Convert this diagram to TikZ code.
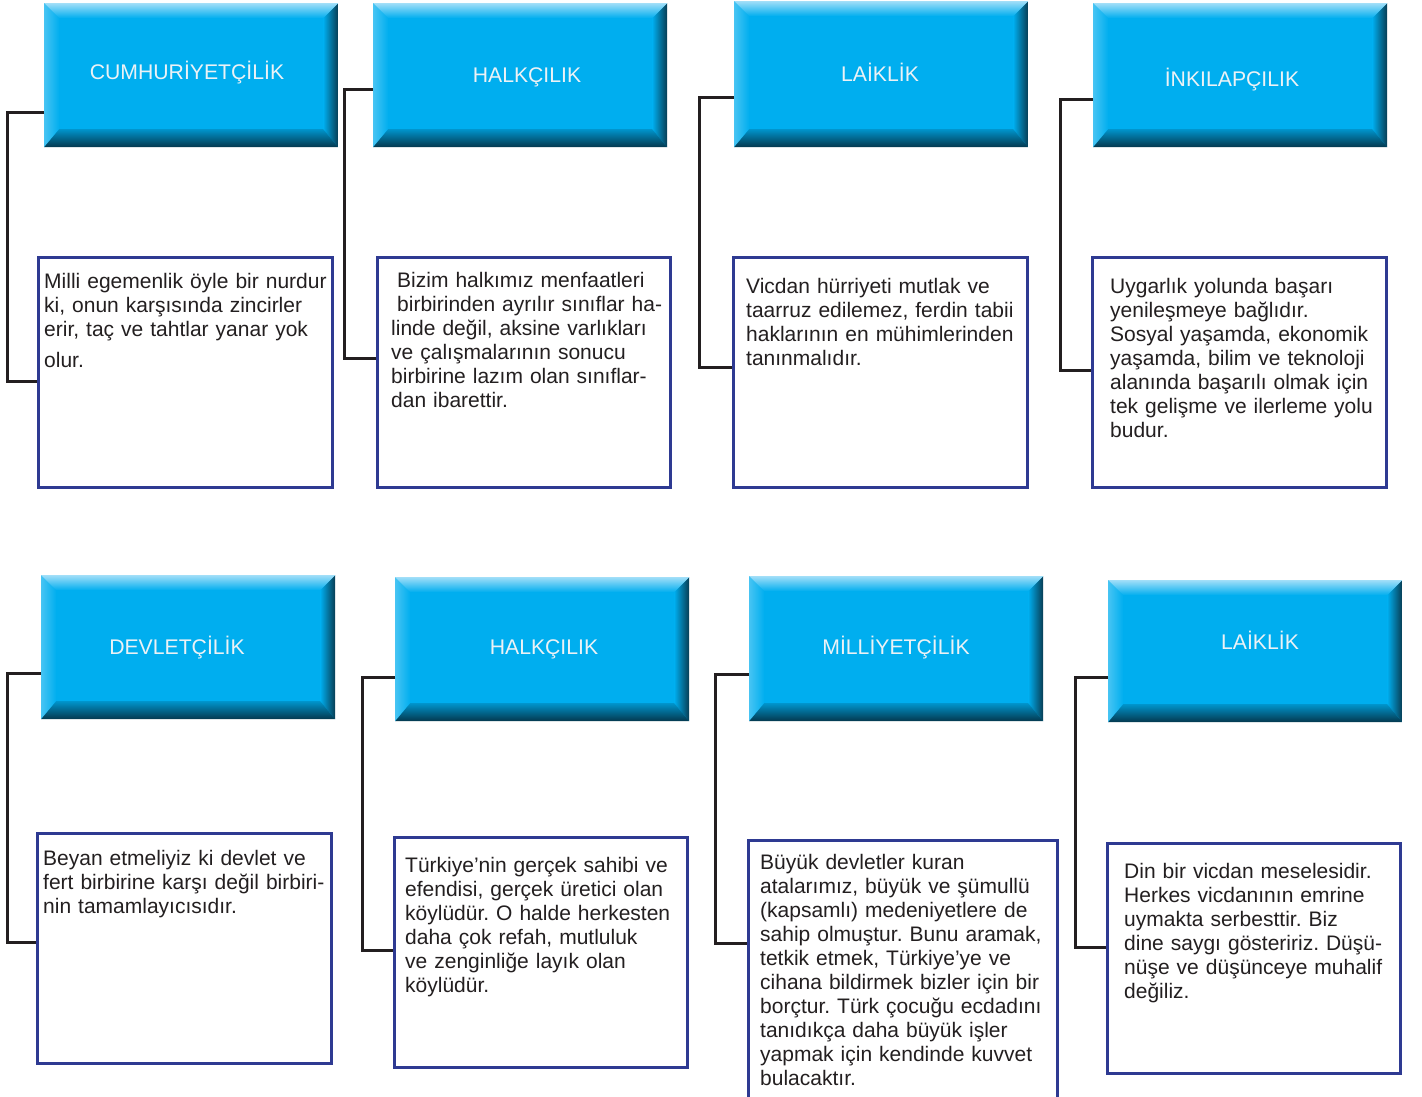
\documentclass[tikz,border=0pt]{standalone}
\usepackage{fontspec}
\setmainfont{Liberation Sans}
\frenchspacing
\definecolor{cyanmain}{RGB}{0,174,239}
\definecolor{hlight}{RGB}{160,222,248}
\definecolor{hleft}{RGB}{70,196,243}
\definecolor{hdark}{RGB}{8,60,82}
\definecolor{hbot}{RGB}{4,56,78}
\definecolor{hdrtext}{RGB}{236,242,246}
\definecolor{boxblue}{RGB}{46,58,146}
\definecolor{conncol}{RGB}{35,31,32}
\definecolor{bodytext}{RGB}{35,31,32}
\tikzset{
  hdr/.style={rectangle, inner sep=0pt, anchor=north west, fill=cyanmain,
    minimum width=294pt, minimum height=#1,
    path picture={
      \coordinate (bvNW) at (path picture bounding box.north west);
      \coordinate (bvNE) at (path picture bounding box.north east);
      \coordinate (bvSW) at (path picture bounding box.south west);
      \coordinate (bvSE) at (path picture bounding box.south east);
      \coordinate (ivNW) at ([shift={(15pt,-15pt)}]bvNW);
      \coordinate (ivNE) at ([shift={(-15pt,-15pt)}]bvNE);
      \coordinate (ivSW) at ([shift={(15pt,18pt)}]bvSW);
      \coordinate (ivSE) at ([shift={(-15pt,18pt)}]bvSE);
      \shade[left color=hleft, right color=cyanmain] (bvNW) -- (ivNW) -- (ivSW) -- (bvSW) -- cycle;
      \shade[left color=cyanmain, right color=hdark] (bvNE) -- (bvSE) -- (ivSE) -- (ivNE) -- cycle;
      \shade[top color=hlight, bottom color=cyanmain] (bvNW) -- (bvNE) -- (ivNE) -- (ivNW) -- cycle;
      \shade[top color=cyanmain!85!black, bottom color=hbot] (bvSW) -- (ivSW) -- (ivSE) -- (bvSE) -- cycle;
    }},
  htext/.style={anchor=base, inner sep=0pt, text=hdrtext, font=\fontsize{21.2}{24}\selectfont},
  tbox/.style={rectangle, draw=boxblue, line width=2.5pt, inner sep=0pt, anchor=north west, fill=white},
  body/.style={anchor=base west, inner sep=0pt, text width=340pt, align=left, text=bodytext,
    font=\fontsize{21}{24}\selectfont},
  conn/.style={draw=conncol, line width=3pt, line join=miter}
}
\begin{document}
\begin{tikzpicture}[x=1pt,y=-1pt]
\useasboundingbox (0,0) rectangle (1422,1097);
\fill[white] (0,0) rectangle (1422,1097);

% header boxes
\node[hdr=144pt] (h1) at (44,3) {};
\node[hdr=144pt] (h2) at (373,3) {};
\node[hdr=146pt] (h3) at (734,1) {};
\node[hdr=144pt] (h4) at (1093,3) {};
\node[hdr=144pt] (h5) at (41,575) {};
\node[hdr=144pt] (h6) at (395,577) {};
\node[hdr=145pt] (h7) at (749,576) {};
\node[hdr=142pt] (h8) at (1108,580) {};

\node[htext] (h1t) at (187,80) {CUMHURİYETÇİLİK};
\node[htext] (h2t) at (527,83) {HALKÇILIK};
\node[htext] (h3t) at (880,82) {LAİKLİK};
\node[htext] (h4t) at (1232,87) {İNKILAPÇILIK};
\node[htext] (h5t) at (177,654) {DEVLETÇİLİK};
\node[htext] (h6t) at (544,654) {HALKÇILIK};
\node[htext] (h7t) at (896,654) {MİLLİYETÇİLİK};
\node[htext] (h8t) at (1260,649) {LAİKLİK};

% text boxes
\node[tbox, minimum width=294pt, minimum height=230pt] (b1) at (37,256) {};
\node[tbox, minimum width=293pt, minimum height=230pt] (b2) at (376,256) {};
\node[tbox, minimum width=294pt, minimum height=230pt] (b3) at (732,256) {};
\node[tbox, minimum width=294pt, minimum height=230pt] (b4) at (1091,256) {};
\node[tbox, minimum width=294pt, minimum height=230pt] (b5) at (36,832) {};
\node[tbox, minimum width=293pt, minimum height=230pt] (b6) at (393,836) {};
\node[tbox, minimum width=309pt, minimum height=262pt] (b7) at (747,839) {};
\node[tbox, minimum width=293pt, minimum height=230pt] (b8) at (1106,842) {};

% connectors
\draw[conn] (h1.west |- 0,113) -| (7,381) -- (b1.west |- 0,381);
\draw[conn] (h2.west |- 0,90) -| (344,358) -- (b2.west |- 0,358);
\draw[conn] (h3.west |- 0,98) -| (699,367) -- (b3.west |- 0,367);
\draw[conn] (h4.west |- 0,100) -| (1060,370) -- (b4.west |- 0,370);
\draw[conn] (h5.west |- 0,673) -| (7,942) -- (b5.west |- 0,942);
\draw[conn] (h6.west |- 0,677) -| (362,950) -- (b6.west |- 0,950);
\draw[conn] (h7.west |- 0,674) -| (715,943) -- (b7.west |- 0,943);
\draw[conn] (h8.west |- 0,677) -| (1075,947) -- (b8.west |- 0,947);

% texts
\node[body] (t1) at (44,288) {Milli egemenlik öyle bir nurdur\\ki, onun karşısında zincirler\\erir, taç ve tahtlar yanar yok\\[7pt]olur.};
\node[body] (t2) at (391,287) {\hspace*{6pt}Bizim halkımız menfaatleri\\\hspace*{6pt}birbirinden ayrılır sınıflar ha-\\linde değil, aksine varlıkları\\ve çalışmalarının sonucu\\birbirine lazım olan sınıflar-\\dan ibarettir.};
\node[body] (t3) at (746,293) {Vicdan hürriyeti mutlak ve\\taarruz edilemez, ferdin tabii\\haklarının en mühimlerinden\\tanınmalıdır.};
\node[body] (t4) at (1110,293) {Uygarlık yolunda başarı\\yenileşmeye bağlıdır.\\Sosyal yaşamda, ekonomik\\yaşamda, bilim ve teknoloji\\alanında başarılı olmak için\\tek gelişme ve ilerleme yolu\\budur.};
\node[body] (t5) at (43,865) {Beyan etmeliyiz ki devlet ve\\fert birbirine karşı değil birbiri-\\nin tamamlayıcısıdır.};
\node[body] (t6) at (405,872) {Türkiye’nin gerçek sahibi ve\\efendisi, gerçek üretici olan\\köylüdür. O halde herkesten\\daha çok refah, mutluluk\\ve zenginliğe layık olan\\köylüdür.};
\node[body] (t7) at (760,869) {Büyük devletler kuran\\atalarımız, büyük ve şümullü\\(kapsamlı) medeniyetlere de\\sahip olmuştur. Bunu aramak,\\tetkik etmek, Türkiye’ye ve\\cihana bildirmek bizler için bir\\borçtur. Türk çocuğu ecdadını\\tanıdıkça daha büyük işler\\yapmak için kendinde kuvvet\\bulacaktır.};
\node[body] (t8) at (1124,878) {Din bir vicdan meselesidir.\\Herkes vicdanının emrine\\uymakta serbesttir. Biz\\dine saygı gösteririz. Düşü-\\nüşe ve düşünceye muhalif\\değiliz.};
\end{tikzpicture}
\end{document}
